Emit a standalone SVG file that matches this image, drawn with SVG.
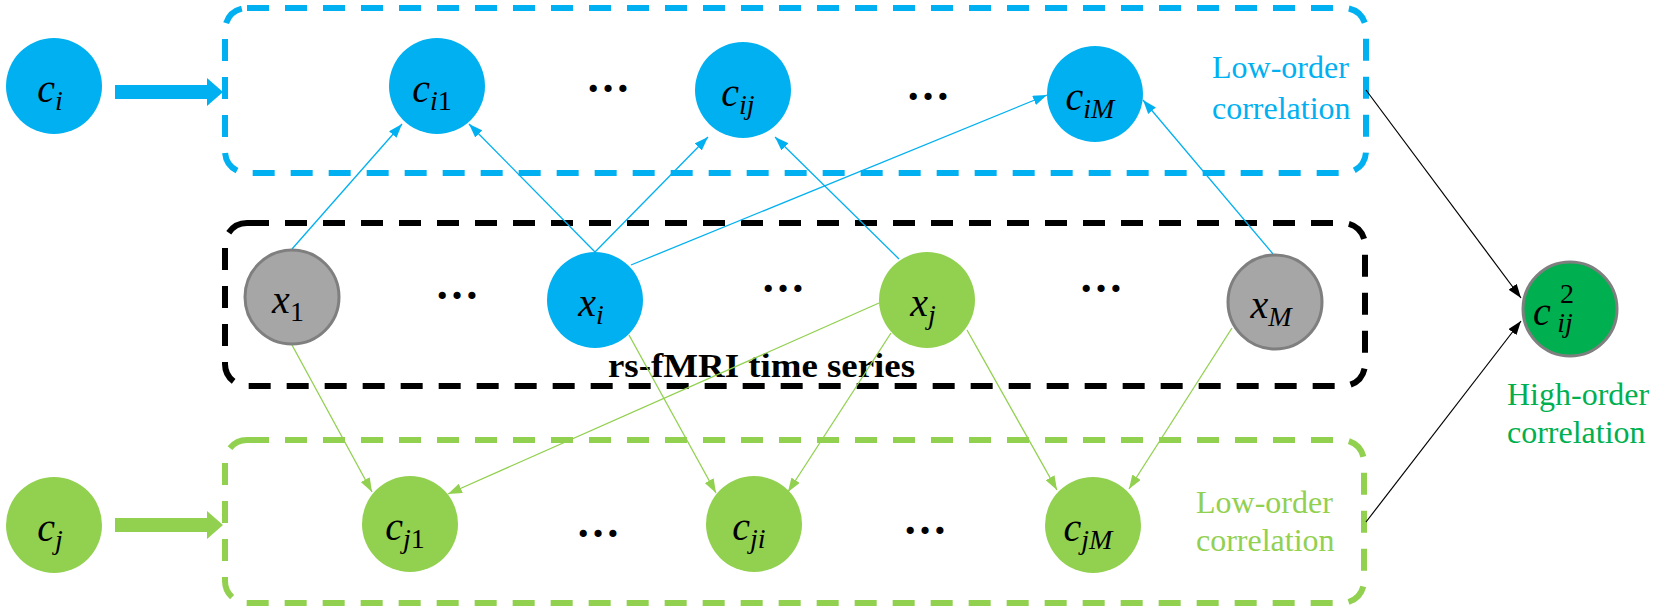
<svg xmlns="http://www.w3.org/2000/svg" width="1654" height="614" viewBox="0 0 1654 614">
<style>
.box{fill:none;stroke-width:6;stroke-dasharray:22 16}
.lbl{font-family:'Liberation Serif','Times New Roman','DejaVu Serif',serif;font-style:italic;font-size:40px;fill:#000;text-anchor:middle}
.sub{font-size:28px}
.up{font-style:normal}
.dots{font-family:'Liberation Serif','Times New Roman','DejaVu Serif',serif;font-size:44px;font-weight:bold;fill:#000;text-anchor:middle}
.cap{font-family:'Liberation Serif','Times New Roman','DejaVu Serif',serif;font-size:32px}
.ttl{font-family:'Liberation Serif','Times New Roman','DejaVu Serif',serif;font-size:34px;font-weight:bold;fill:#000}
.bl{stroke:#00B0F0;stroke-width:1.3;fill:none;marker-end:url(#ab)}
.gl{stroke:#92D050;stroke-width:1.3;fill:none;marker-end:url(#ag)}
.kl{stroke:#000;stroke-width:1.2;fill:none;marker-end:url(#ak)}
</style>
<defs>
<marker id="ab" viewBox="0 0 14 10" markerWidth="14" markerHeight="10" refX="14" refY="5" orient="auto" markerUnits="userSpaceOnUse"><path d="M0,0 L14,5 L0,10 z" fill="#00B0F0"/></marker>
<marker id="ag" viewBox="0 0 14 10" markerWidth="14" markerHeight="10" refX="14" refY="5" orient="auto" markerUnits="userSpaceOnUse"><path d="M0,0 L14,5 L0,10 z" fill="#92D050"/></marker>
<marker id="ak" viewBox="0 0 14 10" markerWidth="14" markerHeight="10" refX="14" refY="5" orient="auto" markerUnits="userSpaceOnUse"><path d="M0,0 L14,5 L0,10 z" fill="#000"/></marker>
</defs>
<rect width="1654" height="614" fill="#fff"/>

<g id="group-low-i">
<rect class="box" x="225" y="8" width="1141" height="165" rx="22" stroke="#00B0F0"/>
<text class="cap" fill="#00B0F0" x="1212" y="78">Low-order</text>
<text class="cap" fill="#00B0F0" x="1212" y="119">correlation</text>
</g>
<g id="group-series">
<rect class="box" x="225" y="223" width="1140" height="163" rx="22" stroke="#000"/>
<text class="ttl" x="608" y="377" textLength="307" lengthAdjust="spacingAndGlyphs">rs-fMRI time series</text>
</g>
<g id="group-low-j">
<rect class="box" x="225" y="440" width="1139" height="163" rx="22" stroke="#92D050"/>
<text class="cap" fill="#92D050" x="1196" y="513">Low-order</text>
<text class="cap" fill="#92D050" x="1196" y="551">correlation</text>
</g>

<g id="connectors">
<polygon points="115,85 207,85 207,78 223,92 207,106 207,99 115,99" fill="#00B0F0"/>
<polygon points="115,518 207,518 207,511 223,525 207,539 207,532 115,532" fill="#92D050"/>
<line class="bl" x1="292" y1="249" x2="402" y2="124"/>
<line class="bl" x1="595" y1="252" x2="469" y2="124"/>
<line class="bl" x1="595" y1="252" x2="708" y2="137"/>
<line class="bl" x1="631" y1="265" x2="1047" y2="95"/>
<line class="bl" x1="899" y1="259" x2="775" y2="137"/>
<line class="bl" x1="1273" y1="254" x2="1143" y2="100"/>
<line class="gl" x1="292" y1="345" x2="372" y2="492"/>
<line class="gl" x1="879" y1="303" x2="448" y2="494"/>
<line class="gl" x1="629" y1="335" x2="716" y2="493"/>
<line class="gl" x1="891" y1="333" x2="788" y2="492"/>
<line class="gl" x1="967" y1="330" x2="1057" y2="490"/>
<line class="gl" x1="1232" y1="328" x2="1129" y2="489"/>
<line class="kl" x1="1366" y1="90" x2="1521" y2="298"/>
<line class="kl" x1="1366" y1="522" x2="1521" y2="321"/>
</g>

<g id="dots">
<text class="dots" x="608" y="92">…</text>
<text class="dots" x="928" y="100">…</text>
<text class="dots" x="457" y="299">…</text>
<text class="dots" x="783" y="292">…</text>
<text class="dots" x="1101" y="292">…</text>
<text class="dots" x="598" y="537">…</text>
<text class="dots" x="925" y="534">…</text>
</g>

<g id="node-ci"><circle cx="54" cy="86" r="48" fill="#00B0F0"/><text class="lbl" x="50" y="102">c<tspan class="sub" dy="8">i</tspan></text></g>
<g id="node-ci1"><circle cx="437" cy="86" r="48" fill="#00B0F0"/><text class="lbl" x="432" y="102">c<tspan class="sub" dy="8">i<tspan class="up">1</tspan></tspan></text></g>
<g id="node-cij"><circle cx="743" cy="90" r="48" fill="#00B0F0"/><text class="lbl" x="738" y="106">c<tspan class="sub" dy="8">ij</tspan></text></g>
<g id="node-ciM"><circle cx="1095" cy="94" r="48" fill="#00B0F0"/><text class="lbl" x="1090" y="110">c<tspan class="sub" dy="8">iM</tspan></text></g>

<g id="node-x1"><circle cx="292" cy="297" r="47" fill="#A6A6A6" stroke="#7F7F7F" stroke-width="3"/><text class="lbl" x="288" y="313">x<tspan class="sub up" dy="8">1</tspan></text></g>
<g id="node-xi"><circle cx="595" cy="300" r="48" fill="#00B0F0"/><text class="lbl" x="591" y="316">x<tspan class="sub" dy="8">i</tspan></text></g>
<g id="node-xj"><circle cx="927" cy="300" r="48" fill="#92D050"/><text class="lbl" x="923" y="316">x<tspan class="sub" dy="8">j</tspan></text></g>
<g id="node-xM"><circle cx="1275" cy="302" r="47" fill="#A6A6A6" stroke="#7F7F7F" stroke-width="3"/><text class="lbl" x="1271" y="318">x<tspan class="sub" dy="8">M</tspan></text></g>

<g id="node-cij2"><circle cx="1570" cy="309" r="47" fill="#00B050" stroke="#7F7F7F" stroke-width="3"/><text class="lbl" x="1542" y="325" text-anchor="start">c</text><text class="lbl sub up" x="1567" y="303" text-anchor="start">2</text><text class="lbl sub" x="1565" y="332" text-anchor="start">ij</text></g>

<g id="node-cj"><circle cx="54" cy="525" r="48" fill="#92D050"/><text class="lbl" x="50" y="541">c<tspan class="sub" dy="8">j</tspan></text></g>
<g id="node-cj1"><circle cx="410" cy="524" r="48" fill="#92D050"/><text class="lbl" x="405" y="540">c<tspan class="sub" dy="8">j<tspan class="up">1</tspan></tspan></text></g>
<g id="node-cji"><circle cx="754" cy="524" r="48" fill="#92D050"/><text class="lbl" x="749" y="540">c<tspan class="sub" dy="8">ji</tspan></text></g>
<g id="node-cjM"><circle cx="1093" cy="525" r="48" fill="#92D050"/><text class="lbl" x="1088" y="541">c<tspan class="sub" dy="8">jM</tspan></text></g>

<g id="label-high">
<text class="cap" fill="#00B050" x="1507" y="405">High-order</text>
<text class="cap" fill="#00B050" x="1507" y="443">correlation</text>
</g>
</svg>
